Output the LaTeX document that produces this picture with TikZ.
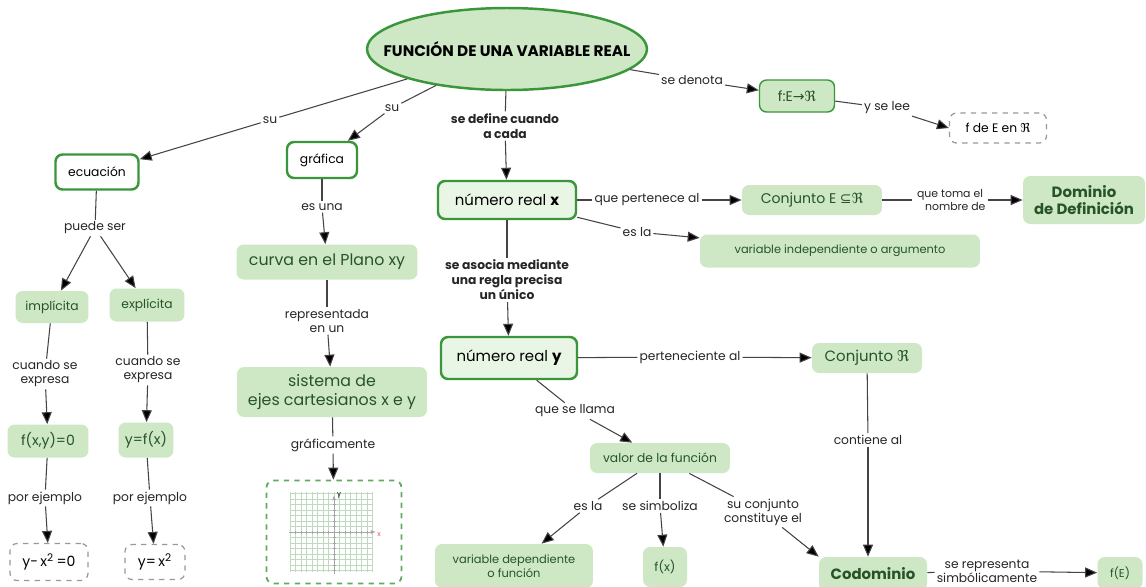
\documentclass[tikz,border=0pt]{standalone}
\usepackage{fontspec}
\setmainfont{Poppins}
\newfontfamily\symfont{DejaVu Sans}
\usetikzlibrary{arrows.meta,shapes.geometric}

\definecolor{fillgreen}{RGB}{206,232,198}
\definecolor{boxgreen}{RGB}{58,150,58}
\definecolor{textgreen}{RGB}{38,84,38}
\definecolor{linegray}{RGB}{72,66,72}
\newcommand{\reales}{{\symfont ℜ}}

\tikzset{
	topic/.style={ellipse, draw=boxgreen, line width=1.4pt, fill=fillgreen, font=\fontsize{8.7}{10}\selectfont\bfseries, minimum width=5.6cm, minimum height=1.64cm, inner xsep=-14pt, inner ysep=0pt},
	keybox/.style={rounded corners=4pt, draw=boxgreen, line width=1.4pt, fill=white, font=\fontsize{8.5}{10}\selectfont, inner sep=2pt},
	concept/.style={rounded corners=4pt, fill=fillgreen, text=textgreen, font=\fontsize{8}{9.5}\selectfont, align=center, inner sep=2pt},
	example/.style={rounded corners=4pt, draw=gray!80, dashed, line width=0.7pt, fill=white, font=\fontsize{8}{9.5}\selectfont, inner sep=2pt},
	lbl/.style={fill=white, inner sep=1pt, font=\fontsize{7}{8}\selectfont, align=center, text=black!85},
	link/.style={-, draw=linegray, line width=0.6pt},
	arr/.style={-{Triangle[length=2.4mm,width=2mm]}, draw=linegray, line width=0.6pt},
}

\begin{document}
\begin{tikzpicture}[x=0.02cm, y=-0.02cm]
	
	\useasboundingbox[fill=white] (0,0) rectangle (1146,586);
	
	% top concept
	\node[topic] (fun) at (507, 49) {FUNCIÓN DE UNA VARIABLE REAL};
	
	\node[concept, draw=boxgreen, line width=0.8pt, minimum width=1.5cm, minimum height=0.64cm] (fer) at (797, 96) {f:E{\symfont →}\reales};
	\node[example, minimum width=1.94cm, minimum height=0.6cm, font=\fontsize{7}{8}\selectfont] (fdee) at (998, 128) {f de E en \reales};
	
	% key concepts
	\node[keybox, minimum width=1.66cm, minimum height=0.7cm, font=\fontsize{7}{8}\selectfont] (ecu) at (97, 172) {ecuación};
	\node[keybox, minimum width=1.4cm, minimum height=0.72cm, font=\fontsize{7}{8}\selectfont] (graf) at (322, 160) {gráfica};
	\node[keybox, fill=fillgreen!45, minimum width=2.76cm, minimum height=0.76cm] (nrx) at (507, 200) {número real \textbf{x}};
	\node[keybox, fill=fillgreen!45, minimum width=2.72cm, minimum height=0.84cm] (nry) at (509, 358) {número real \textbf{y}};
	
	% right side
	\node[concept, minimum width=2.8cm, minimum height=0.6cm] (conjE) at (812, 200) {Conjunto E {\symfont ⊆}\reales};
	\node[concept, minimum width=2.44cm, minimum height=0.96cm, font=\fontsize{8.5}{10}\selectfont\bfseries] (dom) at (1084, 200) {Dominio\\de Definición};
	\node[concept, minimum width=5.6cm, minimum height=0.66cm, font=\fontsize{6.5}{8}\selectfont] (vind) at (840, 251) {variable independiente o argumento};
	\node[concept, minimum width=2.2cm, minimum height=0.6cm, font=\fontsize{8.5}{10}\selectfont] (conjR) at (867, 358) {Conjunto \reales};
	\node[concept, minimum width=2.8cm, minimum height=0.6cm, font=\fontsize{7}{8}\selectfont] (valf) at (660, 458) {valor de la función};
	\node[concept, minimum width=3.16cm, minimum height=0.88cm, font=\fontsize{6.5}{8}\selectfont] (vdep) at (514, 566) {variable dependiente\\o función};
	\node[concept, minimum width=0.88cm, minimum height=0.8cm, font=\fontsize{7}{8}\selectfont] (fx) at (665, 567) {f(x)};
	\node[concept, minimum width=2.16cm, minimum height=0.68cm, font=\fontsize{8.5}{10}\selectfont\bfseries] (codom) at (873, 574) {Codominio};
	\node[concept, minimum width=0.9cm, minimum height=0.64cm, font=\fontsize{6.5}{8}\selectfont] (fE) at (1120, 573) {f(E)};
	
	% left column
	\node[concept, minimum width=1.46cm, minimum height=0.64cm, font=\fontsize{7}{8}\selectfont] (impl) at (52, 307) {implícita};
	\node[concept, minimum width=1.5cm, minimum height=0.66cm, font=\fontsize{7}{8}\selectfont] (expl) at (147, 305) {explícita};
	\node[concept, minimum width=1.62cm, minimum height=0.66cm] (fxy) at (48, 441) {f(x,y)=0};
	\node[concept, minimum width=1.1cm, minimum height=0.7cm] (yfx) at (146, 440) {y=f(x)};
	\node[example, minimum width=1.56cm, minimum height=0.74cm] (ex1) at (49, 562) {y-\,x\textsuperscript{2}\,=0};
	\node[example, minimum width=1.2cm, minimum height=0.7cm] (ex2) at (155, 562) {y=\,x\textsuperscript{2}};
	
	% middle column
	\node[concept, minimum width=3.62cm, minimum height=0.7cm, font=\fontsize{9}{10.5}\selectfont] (curva) at (327, 262) {curva en el Plano xy};
	\node[concept, minimum width=3.8cm, minimum height=1cm, font=\fontsize{9}{10.5}\selectfont] (sist) at (332, 392) {sistema de\\ejes cartesianos x e y};
	\node[example, draw=boxgreen!80, line width=1pt, minimum width=2.7cm, minimum height=2.06cm] (plano) at (334, 532) {};
	
	% small plane inside the dashed box
	\begin{scope}[shift={(plano.center)}, x=1cm, y=1cm]
		\draw[step=0.11cm, green!25!gray!40, very thin] (-0.88,-0.8) grid (0.78,0.8);
		\draw[gray!70, line width=0.5pt, -{Latex[length=1mm]}] (-0.9,0) -- (0.84,0);
		\draw[gray!70, line width=0.5pt, -{Latex[length=1mm]}] (0,-0.84) -- (0,0.74);
		\foreach \t in {-0.77,-0.66,...,0.7}
			\draw[gray!70, line width=0.3pt] (\t,-0.03) -- (\t,0.03) (-0.03,\t) -- (0.03,\t);
		\node[font=\fontsize{4}{4}\selectfont, inner sep=0pt] (ylab) at (0.1,0.74) {y};
		\node[font=\fontsize{4}{4}\selectfont, inner sep=0pt, text=red!70] (xlab) at (0.9,-0.06) {x};
	\end{scope}
	
	% linking words
	\node[lbl] (ldenota) at (692, 80) {se denota};
	\node[lbl] (lsele) at (887, 108) {y se lee};
	\node[lbl] (lsu1) at (270, 120) {su};
	\node[lbl] (lsu2) at (392, 108) {su};
	\node[lbl, font=\fontsize{7}{8.5}\selectfont\bfseries] (ldef) at (505, 126) {se define cuando\\a cada};
	\node[lbl] (lpert) at (647, 200) {que pertenece al};
	\node[lbl, font=\fontsize{6.2}{7.5}\selectfont] (ltoma) at (950, 200) {que toma el\\\hspace*{6pt}nombre de};
	\node[lbl] (lesla1) at (637, 232) {es la};
	\node[lbl, font=\fontsize{7}{8.5}\selectfont\bfseries] (lasoc) at (507, 280) {se asocia mediante\\una regla precisa\\un único};
	\node[lbl] (lpertn) at (690, 357) {perteneciente al};
	\node[lbl] (lcont) at (868, 440) {contiene al};
	\node[lbl] (lllama) at (575, 411) {que se llama};
	\node[lbl] (lesla2) at (588, 506) {es la};
	\node[lbl] (lsimb) at (660, 506) {se simboliza};
	\node[lbl] (lconst) at (763, 512) {su conjunto\\constituye el};
	\node[lbl] (lrepr) at (987, 571) {se representa\\simbólicamente};
	\node[lbl] (lpuede) at (95, 228) {puede ser};
	\node[lbl] (lcuando1) at (45, 374) {cuando se\\expresa};
	\node[lbl] (lcuando2) at (148, 370) {cuando se\\expresa};
	\node[lbl] (lejem1) at (45, 498) {por ejemplo};
	\node[lbl] (lejem2) at (150, 498) {por ejemplo};
	\node[lbl] (lesuna) at (322, 207) {es una};
	\node[lbl] (lrepres) at (327, 321) {representada\\en un};
	\node[lbl] (lgraf) at (333, 445) {gráficamente};
	
	% connectors
	\path[link] (fun) edge (ldenota);
	\path[arr] (ldenota) edge (fer);
	\path[link] (fer) edge (lsele);
	\path[arr] (lsele) edge (fdee.west);
	\path[link] (fun) edge (lsu1);
	\path[arr] (lsu1) edge (ecu);
	\path[link] (fun) edge (lsu2);
	\path[arr] (lsu2) edge (graf);
	\path[link] (fun) edge (ldef);
	\path[arr] (ldef) edge (nrx);
	
	\path[link] (nrx) edge (lpert);
	\path[arr] (lpert) edge (conjE);
	\path[link] (conjE) edge (ltoma);
	\path[arr] (ltoma) edge (dom);
	\path[link] (nrx) edge (lesla1);
	\path[arr] (lesla1) edge (vind);
	\path[link] (nrx) edge (lasoc);
	\path[arr] (lasoc) edge (nry);
	
	\path[link] (nry) edge (lpertn);
	\path[arr] (lpertn) edge (conjR);
	\path[link] (conjR) edge (lcont);
	\path[arr] (lcont) edge (lcont |- codom.north);
	\path[link] (nry) edge (lllama);
	\path[arr] (lllama) edge (valf);
	\path[link] (valf) edge (lesla2);
	\path[arr] (lesla2) edge (vdep);
	\path[link] (valf) edge (lsimb);
	\path[arr] (lsimb) edge (fx);
	\path[link] (valf) edge (lconst);
	\path[arr] (lconst) edge (codom.north west);
	\path[link] (codom) edge (lrepr);
	\path[arr] (lrepr) edge (fE);
	
	\path[link] (ecu) edge (lpuede);
	\path[arr] (lpuede) edge (impl);
	\path[arr] (lpuede) edge (expl);
	\path[link] (impl) edge (lcuando1);
	\path[arr] (lcuando1) edge (fxy);
	\path[link] (expl) edge (lcuando2);
	\path[arr] (lcuando2) edge (yfx);
	\path[link] (fxy) edge (lejem1);
	\path[arr] (lejem1) edge (ex1);
	\path[link] (yfx) edge (lejem2);
	\path[arr] (lejem2) edge (ex2);
	
	\path[link] (graf) edge (lesuna);
	\path[arr] (lesuna) edge (curva);
	\path[link] (curva) edge (lrepres);
	\path[arr] (lrepres) edge (sist);
	\path[link] (sist) edge (lgraf);
	\path[arr] (lgraf) edge (plano);
	
\end{tikzpicture}
\end{document}
